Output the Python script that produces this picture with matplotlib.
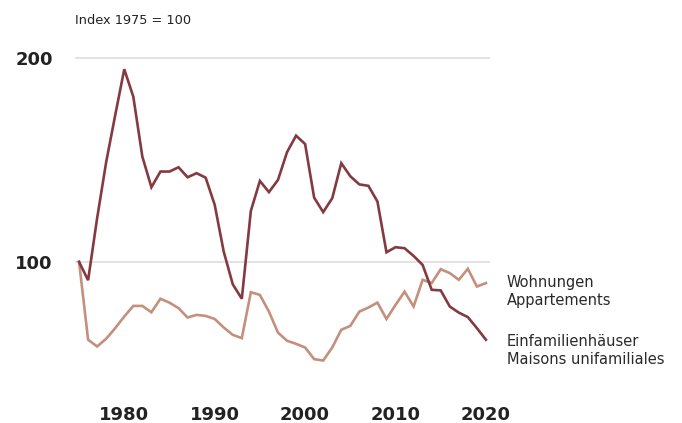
import matplotlib
matplotlib.use("Agg")
import matplotlib.pyplot as plt

years = list(range(1975, 2021))

einfamilien = [100, 91, 121.5, 149, 172, 194.5, 181, 151.6, 136.6, 144.3,
               144.3, 146.4, 141.5, 143.5, 141.3, 128, 105, 89, 81.9, 125,
               139.7, 134.2, 140.2, 153.8, 161.9, 157.8, 131.5, 124.4, 131.2, 148.4,
               142, 138, 137.3, 129.6, 104.7, 107.2, 106.7, 102.9, 98.5, 86.3,
               86, 78.1, 75.1, 72.9, 67.5, 61.8]

wohnungen = [100, 61.8, 58.5, 62.3, 67.5, 73.2, 78.4, 78.4, 75.3, 81.9,
             80, 77.3, 72.7, 74, 73.5, 72, 67.8, 64.2, 62.6, 85.1,
             83.8, 75.6, 65.3, 61.3, 59.8, 58, 52.3, 51.6, 58, 66.7,
             68.6, 75.6, 77.6, 80, 72, 78.9, 85.4, 78.1, 91.2, 89.6,
             96.4, 94.5, 91.2, 96.6, 87.9, 89.6]

xticks = [1980, 1990, 2000, 2010, 2020]
yticks = [100, 200]
axis_title = "Index 1975 = 100"
label_wohnungen = "Wohnungen\nAppartements"
label_einfam = "Einfamilienhäuser\nMaisons unifamiliales"

dark = "#833a40"
light = "#c3907c"
W, H = 682, 423
fig = plt.figure(figsize=(W / 100, H / 100), dpi=100)
left, right = 75 / W, 490 / W
top, bottom = 1 - 47.8 / H, 1 - 374 / H
ax = fig.add_axes([left, bottom, right - left, top - bottom])

ax.plot(years, wohnungen, color=light, lw=1.9, solid_joinstyle="miter", zorder=3)
ax.plot(years, einfamilien, color=dark, lw=1.9, solid_joinstyle="miter", zorder=4)

ax.set_xlim(1974.55, 2020.45)
ax.set_ylim(45, 205)
for y in yticks:
    ax.axhline(y, color="#dedede", lw=1.2, zorder=1)

for s in ax.spines.values():
    s.set_visible(False)
ax.set_xticks(xticks)
ax.set_xticklabels([str(t) for t in xticks], fontsize=13, fontweight="bold", color="#222222")
ax.set_yticks(yticks)
ax.set_yticklabels([str(t) for t in yticks], fontsize=13, fontweight="bold", color="#222222", ha="left")
ax.tick_params(axis="x", length=0, pad=23)
ax.tick_params(axis="y", length=0, pad=43)

fig.text(75 / W, 1 - 20 / H, axis_title, fontsize=9.3, color="#222222", ha="left", va="center")
fig.text(507 / W, 1 - 292 / H, label_wohnungen, fontsize=10.5, color="#2a2a2a",
         ha="left", va="center", linespacing=1.25)
fig.text(507 / W, 1 - 350 / H, label_einfam, fontsize=10.5, color="#2a2a2a",
         ha="left", va="center", linespacing=1.25)

fig.savefig("out.png", dpi=100)
